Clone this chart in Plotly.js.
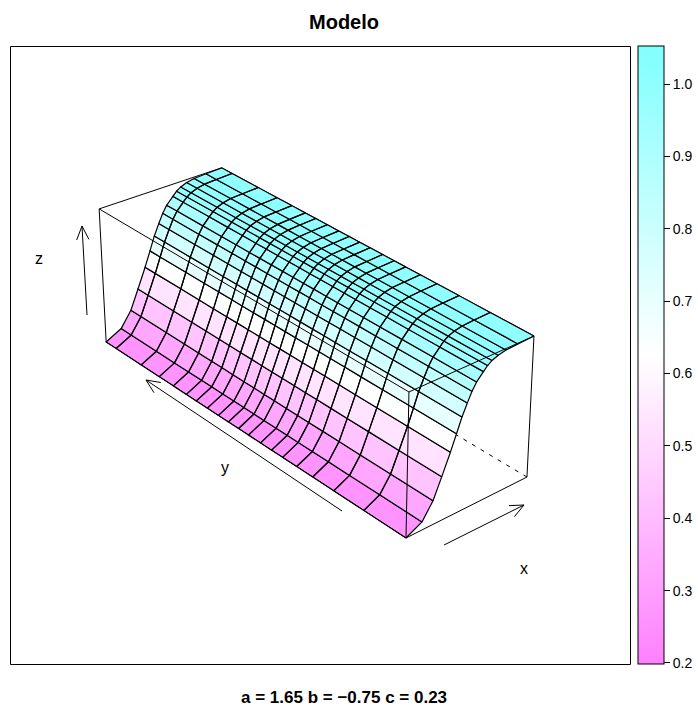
<!DOCTYPE html>
<html><head><meta charset="utf-8">
<script src="https://cdn.plot.ly/plotly-3.0.1.min.js"></script>
<style>html,body{margin:0;padding:0;background:#fff}</style></head>
<body><div id="chart" style="width:698px;height:706px"></div>
<script>
// Data (x and y are fractions of their unlabelled axes)
const xNodes = [0,.125,.21,.275,.34,.385,.425,.465,.5,.535,.588,.62,.655,.705,.768,.867,1];
const zValues = [.24,.284,.369,.476,.586,.669,.745,.806,.856,.894,.932,.954,.97,.983,.992,.996,1.0];
const yNodes = [0,.1248,.2167,.2826,.3335,.3788,.4147,.451,.491,.5246,.5587,.5929,.631,.6696,.7049,.7513,.802,.8681,.962,1];
const keyRange = [0.1986,1.0525];
const keyTicks = [0.2,0.3,0.4,0.5,0.6,0.7,0.8,0.9,1.0];
const keyColors = [[0,'#FF80FF'],[0.5,'#FFFFFF'],[1,'#80FFFF']];
const titleText = 'Modelo';
const subtitleText = 'a = 1.65 b = \u22120.75 c = 0.23';

// View of the box (perspective camera of the wireframe), page-pixel axes
const view = {ox:406,oy:538,a:[147.1,-284.3,-11.54],b:[-37.3,-146,-159.9],w:[.0496,.1464,-.0354]};
const zMin = zValues[0], zMax = zValues[zValues.length-1];
function proj(u,v,w){
  const d = 1+view.w[0]*u+view.w[1]*v+view.w[2]*w;
  return [(view.ox+view.a[0]*u+view.a[1]*v+view.a[2]*w)/d,(view.oy+view.b[0]*u+view.b[1]*v+view.b[2]*w)/d];
}
const pz = z => (z-zMin)/(zMax-zMin);
function colorAt(z){
  const t=(z-keyRange[0])/(keyRange[1]-keyRange[0]);
  const k=Math.abs(t-.5)*2, c=Math.round(255-127*k);
  return t<.5?`rgb(255,${c},255)`:`rgb(${c},255,255)`;
}
function segment(p,q,dash,width){
  const A=proj(...p),B=proj(...q);
  return {type:'scatter',mode:'lines',x:[A[0],B[0]],y:[A[1],B[1]],hoverinfo:'skip',showlegend:false,
    line:{color:'#000',width:width||1,dash:dash||'solid'}};
}
const traces=[];
// hidden and back edges
traces.push(segment([1,0,0],[1,1,0],'4px,6px'),segment([0,1,0],[1,1,0],'4px,6px'),segment([1,1,0],[1,1,1],'4px,6px'));
traces.push(segment([1,0,0],[1,0,1]),segment([0,1,0],[0,1,1]),segment([0,1,1],[1,1,1]),segment([1,1,1],[1,0,1]));
// surface: one trace per x band, one closed cell per y step
for(let i=0;i<xNodes.length-1;i++){
  const xs=[],ys=[];
  for(let j=0;j<yNodes.length-1;j++){
    const c=[[i,j],[i+1,j],[i+1,j+1],[i,j+1],[i,j]];
    c.forEach(([a,b])=>{const P=proj(xNodes[a],yNodes[b],pz(zValues[a]));xs.push(P[0]);ys.push(P[1]);});
    xs.push(null);ys.push(null);
  }
  traces.push({type:'scatter',mode:'lines',x:xs,y:ys,fill:'toself',fillcolor:colorAt((zValues[i]+zValues[i+1])/2),
    line:{color:'#000',width:1.2},hoverinfo:'skip',showlegend:false,connectgaps:false});
}
// front edges
traces.push(segment([0,0,0],[1,0,0]),segment([0,0,0],[0,1,0]),segment([0,0,0],[0,0,1]),segment([0,0,1],[1,0,1]),segment([0,0,1],[0,1,1]));
// axis arrows
const arrowFrom=[[444,545],[342,511],[87,315]];
const arrowTo=[[524,505],[146,380],[82,226]];
arrowFrom.forEach((f,n)=>{
  const t=arrowTo[n],ang=Math.atan2(t[1]-f[1],t[0]-f[0]),L=15,h=.42;
  const l=[t[0]-L*Math.cos(ang-h),t[1]-L*Math.sin(ang-h)],r=[t[0]-L*Math.cos(ang+h),t[1]-L*Math.sin(ang+h)];
  traces.push({type:'scatter',mode:'lines',x:[f[0],t[0],null,l[0],t[0],r[0]],y:[f[1],t[1],null,l[1],t[1],r[1]],
    line:{color:'#000',width:1},hoverinfo:'skip',showlegend:false});
});
// colour key
traces.push({type:'scatter',mode:'markers',x:[-50],y:[-50],hoverinfo:'skip',showlegend:false,
  marker:{size:1,color:[0.6],cmin:keyRange[0],cmax:keyRange[1],colorscale:keyColors,showscale:true,
    colorbar:{thicknessmode:'pixels',thickness:26,lenmode:'pixels',len:618,x:637.5/698,xanchor:'left',xpad:0,
      y:42/706,yanchor:'bottom',ypad:0,outlinecolor:'#000',outlinewidth:1,ticks:'outside',ticklen:6,tickwidth:1,tickcolor:'#000',
      tickvals:keyTicks,tickformat:'.1f',tickprefix:'\u2009',tickfont:{family:'Liberation Sans',size:14,color:'#000'}}}});
const F='Liberation Sans';
const label=(text,x,y,size,bold)=>({text:bold?'<b>'+text+'</b>':text,x,y,xref:'x',yref:'y',showarrow:false,xanchor:'center',yanchor:'middle',
  font:{family:F,size,color:'#000'}});
Plotly.newPlot('chart',traces,{
  width:698,height:706,margin:{l:0,r:0,t:0,b:0,autoexpand:false},paper_bgcolor:'#fff',plot_bgcolor:'#fff',
  xaxis:{range:[0,698],visible:false,fixedrange:true},
  yaxis:{range:[706,0],visible:false,fixedrange:true},
  title:{text:'<b>'+titleText+'</b>',x:344/698,xanchor:'center',y:1-22/706,yanchor:'middle',font:{family:F,size:20,color:'#000'}},
  shapes:[{type:'rect',xref:'x',yref:'y',x0:10.5,x1:630.5,y0:46.5,y1:664.5,line:{color:'#000',width:1},layer:'below'}],
  annotations:[label('x',524,568,16),label('y',225,467,16),label('z',39,258,16),label(subtitleText,344,697,17,true)]
},{displayModeBar:false,staticPlot:true});
</script></body></html>
